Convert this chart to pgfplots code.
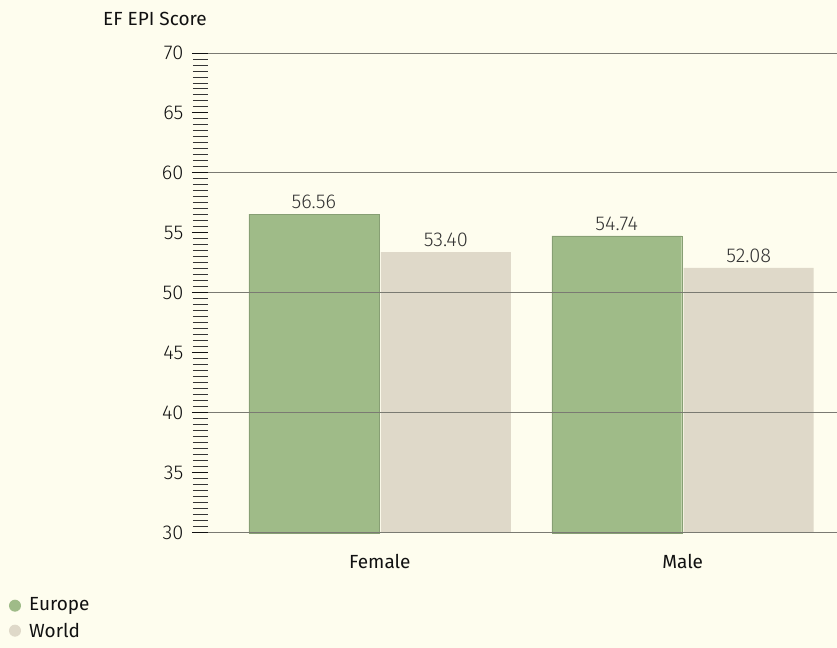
\documentclass[border=0pt]{standalone}
\usepackage{pgfplots}
\pgfplotsset{compat=1.18}
\usepackage{fontspec}
\setmainfont{Fira Sans}
\newfontfamily\lightfont{Fira Sans Light}
\newfontfamily\medfont{Fira Sans}
\definecolor{bg}{HTML}{FEFDEE}
\definecolor{eugreen}{HTML}{9FBB88}
\definecolor{wbeige}{HTML}{DFD9C9}
\definecolor{gridc}{HTML}{7A7A72}
\definecolor{txt}{HTML}{111111}
\definecolor{valc}{HTML}{333333}

\begin{document}
\begin{tikzpicture}[x=1pt,y=1pt]
\fill[bg] (0,0) rectangle (837,648);
\begin{axis}[
    at={(208pt,115pt)}, anchor=south west,
    scale only axis,
    width=629pt, height=480pt,
    ymin=30, ymax=70,
    xmin=-0.5677, xmax=1.508,
    ybar, bar width=0.429, bar shift auto,
    xtick={0,1}, xticklabels={Female,Male},
    xticklabel style={font=\medfont\fontsize{19}{21}\selectfont, text=txt, yshift=-2pt},
    ytick={30,40,50,60,70},
    extra y ticks={35,45,55,65},
    extra y tick style={grid=none},
    minor y tick num=19,
    yticklabel style={font=\lightfont\fontsize{20}{22}\selectfont, text=txt, xshift=-5pt},
    /pgf/number format/assume math mode=true,
    ymajorgrids, grid style={gridc, line width=0.9pt},
    major tick length=16pt, minor tick length=15pt,
    tick align=outside,
    every tick/.style={txt, line width=0.9pt},
    minor tick style={txt!85, line width=0.9pt},
    xtick style={draw=none},
    axis x line*=bottom, axis y line*=left,
    x axis line style={gridc, line width=0.9pt},
    y axis line style={draw=none},
    axis on top,
    nodes near coords,
    nodes near coords style={font=\lightfont\fontsize{20}{22}\selectfont, text=valc, yshift=2pt,
        /pgf/number format/.cd, fixed, fixed zerofill, precision=2, assume math mode=true},
    clip=false,
]
\addplot[fill=eugreen, draw=eugreen!85!black, line width=0.3pt] coordinates {(0,56.56) (1,54.74)};
\addplot[fill=wbeige, draw=none] coordinates {(0,53.40) (1,52.08)};
\end{axis}
\node[anchor=south east, font=\medfont\fontsize{19}{21}\selectfont, text=txt, inner sep=0pt] at (207,622) {EF EPI Score};
\fill[eugreen] (15,42) circle (6);
\node[anchor=west, font=\medfont\fontsize{19}{21}\selectfont, text=txt, inner sep=0pt] at (29,42) {Europe};
\fill[wbeige] (15,17) circle (6);
\node[anchor=west, font=\medfont\fontsize{19}{21}\selectfont, text=txt, inner sep=0pt] at (29,17) {World};
\end{tikzpicture}
\end{document}
